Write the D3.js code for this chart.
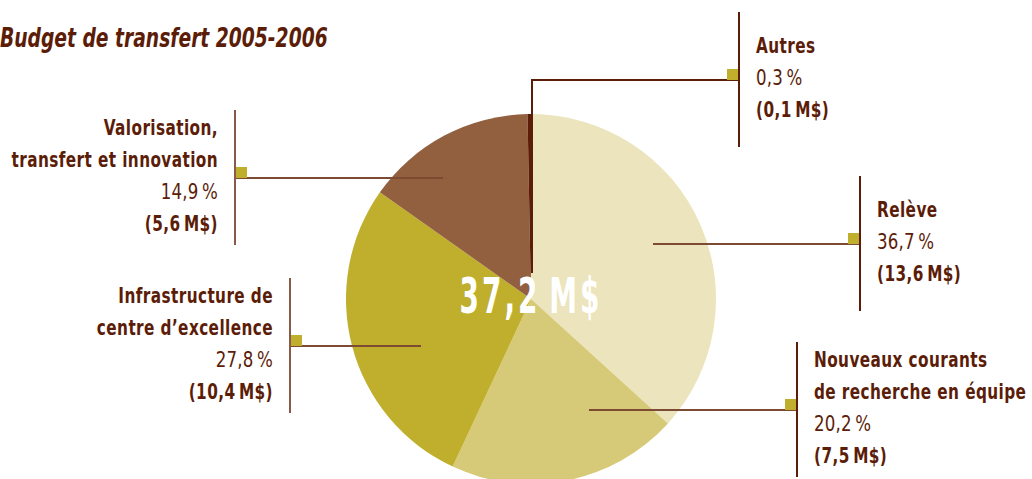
<!DOCTYPE html>
<html>
<head>
<meta charset="utf-8">
<script src="https://cdn.jsdelivr.net/npm/d3@7"></script>
<style>
  body { margin: 0; background: #fff; }
  svg text { font-family: 'Liberation Sans Narrow', 'DejaVu Sans Condensed', sans-serif; fill: #5b1d08; }
  .title { font-size: 26px; font-weight: bold; font-style: italic; }
  .name { font-size: 21px; font-weight: bold; letter-spacing: 0.5px; }
  .pct { font-size: 21px; letter-spacing: 0.2px; }
  .amt { font-size: 21px; font-weight: bold; letter-spacing: 0.5px; }
  .total { font-size: 50px; font-weight: bold; fill: #fff; letter-spacing: 5px; }
</style>
</head>
<body>
<div id="chart"></div>
<script>
// data, in drawing order (clockwise from 12 o'clock)
const categories = ['Relève', 'Nouveaux courants', 'Infrastructure', 'Valorisation', 'Autres'];
const nameLines = [
  ['Relève'],
  ['Nouveaux courants', 'de recherche en équipe'],
  ['Infrastructure de', 'centre d\u2019excellence'],
  ['Valorisation,', 'transfert et innovation'],
  ['Autres'],
];
const percents = [36.7, 20.2, 27.8, 14.9, 0.3];
const amounts = [13.6, 7.5, 10.4, 5.6, 0.1];
const totalLabel = '37,2\u2009M$';
const title = 'Budget de transfert 2005-2006';

const colors = ['#ebe4bc', '#d6c977', '#c0af2c', '#93603f', '#5b1d08'];

// layout of the call-outs (relative to pie centre)
const leaders = [
  { dy: -55, inner: 122, bar: 329, side: 'right' },
  { dy: 111, inner: 58, bar: 266, side: 'right' },
  { dy: 47, inner: -110, bar: -241, side: 'left' },
  { dy: -121, inner: -88, bar: -296, side: 'left' },
  { dy: -219, inner: 1, bar: 208, side: 'right', elbow: -26 },
];

// the print face is a condensed grotesque, so squeeze the text horizontally
const squeeze = { title: 0.8, name: 0.81, pct: 0.88, amt: 0.81, total: 0.62 };

const width = 1032;
const height = 479;
const cx = 531;
const cy = 299;
const radius = 185;

const fmt = v => String(v).replace('.', ',');

const svg = d3.select('#chart').append('svg')
  .attr('width', width)
  .attr('height', height);

function addText(parent, cls, x, y, anchor, txt) {
  return parent.append('text')
    .attr('class', cls)
    .attr('transform', `translate(${x}, ${y}) scale(${squeeze[cls]}, 1)`)
    .attr('text-anchor', anchor)
    .text(txt);
}

addText(svg, 'title', 0, 47, 'start', title);

const pie = d3.pie().sort(null).value(d => d);
const arc = d3.arc().innerRadius(0).outerRadius(radius);

const g = svg.append('g').attr('transform', `translate(${cx}, ${cy})`);

g.selectAll('.slice')
  .data(pie(percents))
  .enter()
  .append('path')
  .attr('class', 'slice')
  .attr('d', arc)
  .attr('fill', (d, i) => colors[i]);

// leader lines
leaders.forEach(function (l, i) {
  if (l.elbow !== undefined) {
    g.append('path')
      .attr('d', `M${l.inner},${l.elbow} L${l.inner},${l.dy} L${l.bar},${l.dy}`)
      .attr('fill', 'none')
      .attr('stroke', '#5b1d08')
      .attr('stroke-width', 2);
  } else {
    g.append('line')
      .attr('x1', l.inner)
      .attr('x2', l.bar)
      .attr('y1', l.dy)
      .attr('y2', l.dy)
      .attr('stroke', '#7d4b32')
      .attr('stroke-width', 2);
  }

  g.append('line')
    .attr('x1', l.bar)
    .attr('x2', l.bar)
    .attr('y1', l.dy - 68)
    .attr('y2', l.dy + 67)
    .attr('stroke', l.side === 'right' ? '#5b1d08' : '#8a5a48')
    .attr('stroke-width', 2);

  g.append('rect')
    .attr('x', l.side === 'right' ? l.bar - 12 : l.bar + 1)
    .attr('y', l.dy - 11)
    .attr('width', 11)
    .attr('height', 11)
    .attr('fill', '#c0af2c');

  const lines = nameLines[i].map(t => ({ t, c: 'name' }))
    .concat([
      { t: `${fmt(percents[i])}\u2009%`, c: 'pct' },
      { t: `(${fmt(amounts[i])}\u2009M$)`, c: 'amt' },
    ]);
  const first = l.dy - 11 - (lines.length - 2) * 16;
  const tx = l.side === 'right' ? l.bar + 17 : l.bar - 17;

  lines.forEach(function (ln, k) {
    addText(g, ln.c, tx, first + k * 32, l.side === 'right' ? 'start' : 'end', ln.t);
  });
});

addText(g, 'total', 0, 14, 'middle', totalLabel);
</script>
</body>
</html>
